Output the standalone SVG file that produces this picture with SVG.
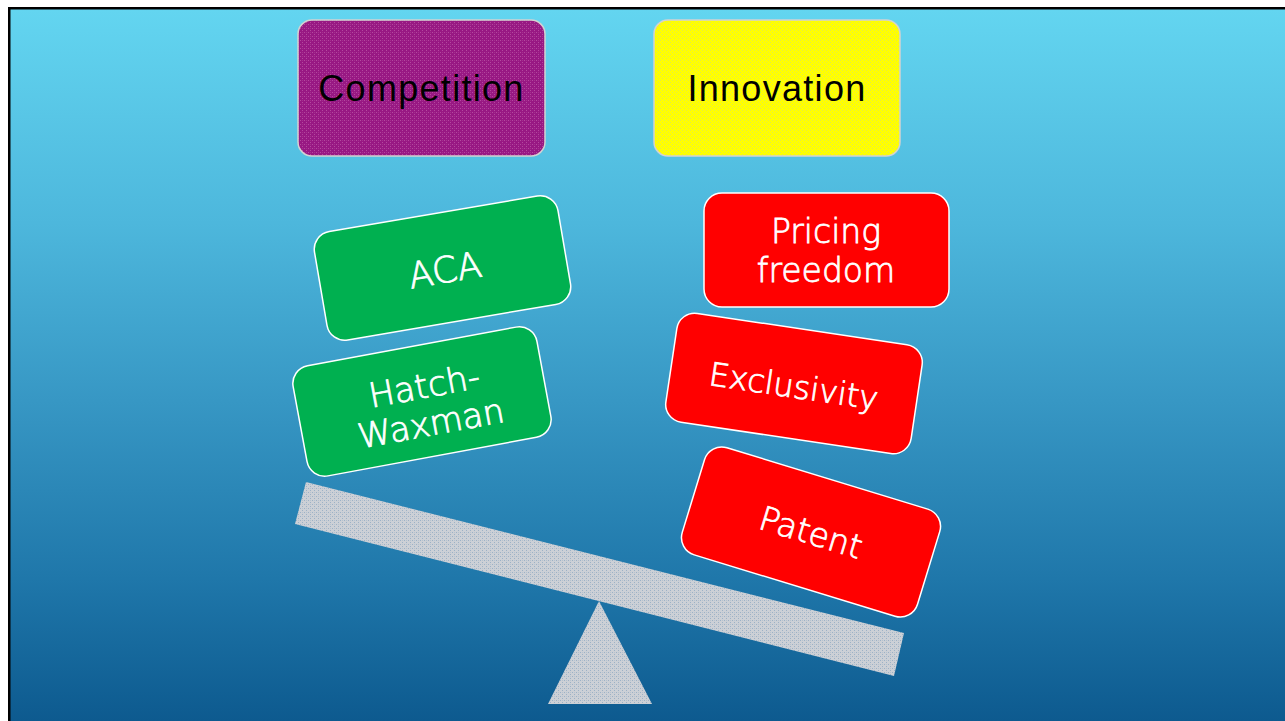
<svg xmlns="http://www.w3.org/2000/svg" width="1285" height="721" viewBox="0 0 1285 721">
  <defs>
    <linearGradient id="bg" x1="0" y1="0" x2="0" y2="1">
      <stop offset="0" stop-color="#63d5f0"/>
      <stop offset="0.3" stop-color="#4db7dc"/>
      <stop offset="0.55" stop-color="#3797c4"/>
      <stop offset="0.8" stop-color="#1f77aa"/>
      <stop offset="1" stop-color="#0d5a8f"/>
    </linearGradient>
    <pattern id="texPurple" width="4" height="4" patternUnits="userSpaceOnUse">
      <rect width="4" height="4" fill="#981883"/>
      <rect x="0" y="0" width="1" height="1" fill="#b4489f"/>
      <rect x="2" y="2" width="1" height="1" fill="#b4489f"/>
      <rect x="2" y="0" width="1" height="1" fill="#a5308f"/>
    </pattern>
    <pattern id="texYellow" width="4" height="4" patternUnits="userSpaceOnUse">
      <rect width="4" height="4" fill="#ffff00"/>
      <rect x="0" y="0" width="1" height="1" fill="#e2e84a"/>
      <rect x="2" y="2" width="1" height="1" fill="#e2e84a"/>
    </pattern>
    <pattern id="texGray" width="4" height="4" patternUnits="userSpaceOnUse">
      <rect width="4" height="4" fill="#ccd0d6"/>
      <rect x="0" y="0" width="1" height="1" fill="#9cb1c6"/>
      <rect x="2" y="2" width="1" height="1" fill="#9cb1c6"/>
      <rect x="2" y="0" width="1" height="1" fill="#b6c2ce"/>
    </pattern>
  </defs>
  <style>
    .top { stroke: #d2d2d2; stroke-width: 1.5; }
    .topText { font-family: "Liberation Sans", Arial, sans-serif; font-size: 36px; fill: #000; text-anchor: middle; letter-spacing: 1.3px; }
    .green { fill: #00b050; stroke: #ffffff; stroke-width: 1.5; }
    .red { fill: #ff0000; stroke: #ffffff; stroke-width: 1.5; }
    .label { font-family: "DejaVu Sans", Verdana, sans-serif; font-weight: 200; font-size: 33px; fill: #ffffff; stroke: #ffffff; stroke-width: 0.8px; text-anchor: middle; }
    .beam { fill: url(#texGray); }
  </style>

  <!-- frame and backdrop -->
  <rect width="1285" height="721" fill="#ffffff"/>
  <rect x="8" y="7" width="1277" height="714" fill="#000000"/>
  <rect x="10.5" y="9.5" width="1275" height="712" fill="url(#bg)"/>

  <!-- headings -->
  <g id="competition">
    <rect class="top" x="298" y="20" width="247" height="136" rx="14" fill="url(#texPurple)"/>
    <text class="topText" x="421.5" y="101">Competition</text>
  </g>
  <g id="innovation">
    <rect class="top" x="654" y="20" width="246" height="136" rx="14" fill="url(#texYellow)"/>
    <text class="topText" x="777" y="101">Innovation</text>
  </g>

  <!-- seesaw -->
  <g id="scale">
    <polygon class="beam" points="599,601 548,704 652,704"/>
    <polygon class="beam" points="306,482 904,633 894,676 295,524"/>
  </g>

  <!-- competition weights -->
  <g id="aca" transform="translate(442.5,268) rotate(-9.7)">
    <rect class="green" x="-123.5" y="-55" width="247" height="110" rx="18"/>
    <text class="label" x="2" y="15" style="font-size:36px">ACA</text>
  </g>
  <g id="hatch-waxman" transform="translate(422,401.5) rotate(-10.5)">
    <rect class="green" x="-124" y="-56" width="248" height="112" rx="18"/>
    <text class="label" x="5" y="-3" style="font-size:34px">Hatch-</text>
    <text class="label" x="5" y="35" style="font-size:34px">Waxman</text>
  </g>

  <!-- innovation weights -->
  <g id="pricing-freedom">
    <rect class="red" x="704" y="193" width="245" height="114" rx="18"/>
    <text class="label" x="826" y="243">Pricing</text>
    <text class="label" x="826" y="282">freedom</text>
  </g>
  <g id="exclusivity" transform="translate(794,383.5) rotate(8.5)">
    <rect class="red" x="-124" y="-55" width="248" height="110" rx="18"/>
    <text class="label" x="0" y="14" style="font-size:32px">Exclusivity</text>
  </g>
  <g id="patent" transform="translate(811,532) rotate(17)">
    <rect class="red" x="-123" y="-56" width="246" height="112" rx="18"/>
    <text class="label" x="0" y="12">Patent</text>
  </g>
</svg>
